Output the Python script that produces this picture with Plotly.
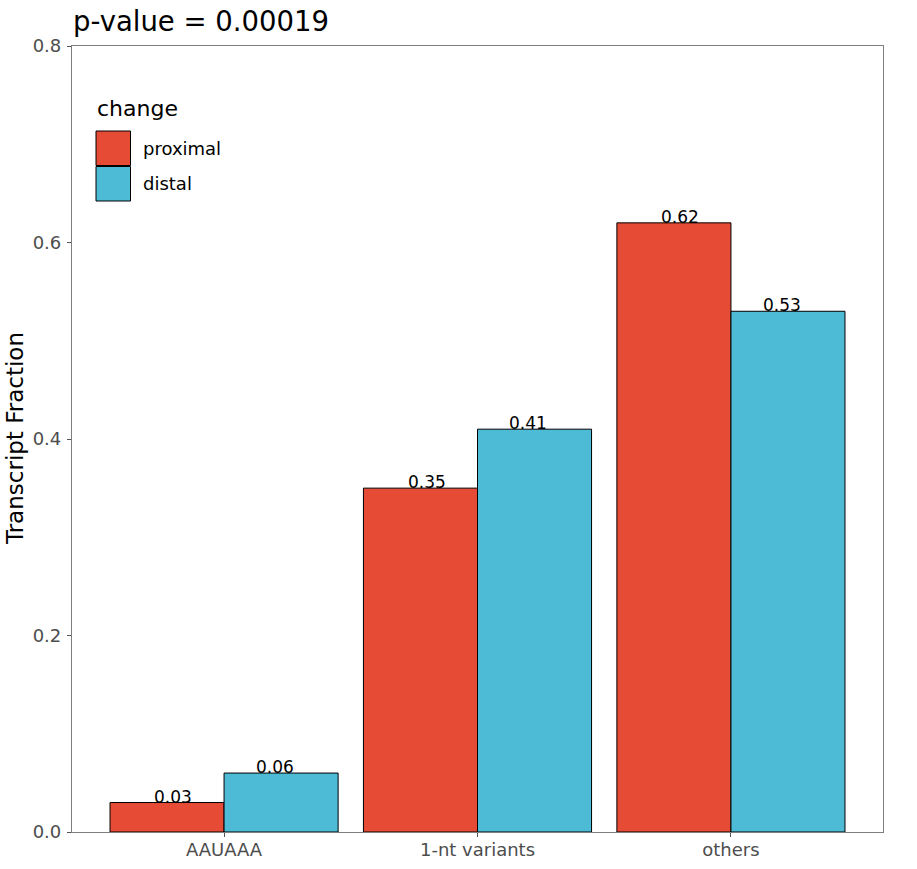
import plotly.graph_objects as go

# ---- data ----
categories = ["AAUAAA", "1-nt variants", "others"]
proximal = [0.03, 0.35, 0.62]
distal = [0.06, 0.41, 0.53]
series_names = ["proximal", "distal"]
y_ticks = [0.0, 0.2, 0.4, 0.6, 0.8]
y_tick_labels = ["0.0", "0.2", "0.4", "0.6", "0.8"]
title_text = "p-value = 0.00019"
legend_title = "change"
y_title = "Transcript Fraction"

# ---- style ----
RED = "#E64B35"
BLUE = "#4DBBD5"
FONT = "DejaVu Sans"
W, H = 917, 869
ML, MR, MT, MB = 72, 34, 46, 37
PW, PH = W - ML - MR, H - MT - MB
BAR_W = 0.45
LABEL_OFF = 0.2

def px_x(px):
    return (px - ML) / PW

def px_y(py):
    return (H - MB - py) / PH

xpos = [i + 1 for i in range(len(categories))]

fig = go.Figure()
fig.add_trace(go.Bar(x=xpos, y=proximal, width=BAR_W, offset=-BAR_W,
                     marker=dict(color=RED, line=dict(color="black", width=1)),
                     name=series_names[0], showlegend=False))
fig.add_trace(go.Bar(x=xpos, y=distal, width=BAR_W, offset=0,
                     marker=dict(color=BLUE, line=dict(color="black", width=1)),
                     name=series_names[1], showlegend=False))

annotations = []
for xv, v in zip(xpos, proximal):
    annotations.append(dict(x=xv - LABEL_OFF, y=v, xref="x", yref="y", text=f"{v:.2f}",
                            showarrow=False, yanchor="bottom", yshift=-6,
                            font=dict(family=FONT, size=17, color="black")))
for xv, v in zip(xpos, distal):
    annotations.append(dict(x=xv + LABEL_OFF, y=v, xref="x", yref="y", text=f"{v:.2f}",
                            showarrow=False, yanchor="bottom", yshift=-6,
                            font=dict(family=FONT, size=17, color="black")))

# title
annotations.append(dict(x=0, y=1, xref="paper", yref="paper", text=title_text,
                        showarrow=False, xanchor="left", yanchor="middle", yshift=25,
                        xshift=-1, font=dict(family=FONT, size=27.5, color="black")))
# y title
annotations.append(dict(x=0, y=0.5, xref="paper", yref="paper", text=y_title,
                        showarrow=False, xanchor="center", yanchor="middle", textangle=-90,
                        xshift=-57, font=dict(family=FONT, size=23, color="black")))

# manual legend
shapes = []
annotations.append(dict(x=px_x(95), y=px_y(109), xref="paper", yref="paper", text=legend_title,
                        showarrow=False, xanchor="left", yanchor="middle",
                        font=dict(family=FONT, size=22, color="black")))
key_tops = [131, 166.5]
for (name, col), top in zip(zip(series_names, [RED, BLUE]), key_tops):
    shapes.append(dict(type="rect", xref="paper", yref="paper",
                       x0=px_x(96), x1=px_x(130.5), y0=px_y(top + 34.5), y1=px_y(top),
                       fillcolor=col, line=dict(color="black", width=1)))
    annotations.append(dict(x=px_x(141), y=px_y(top + 17.5), xref="paper", yref="paper",
                            text=name, showarrow=False, xanchor="left", yanchor="middle",
                            font=dict(family=FONT, size=18, color="black")))

axis_common = dict(showgrid=False, zeroline=False, showline=True, mirror=True,
                   automargin=False,
                   linecolor="#7F7F7F", linewidth=1.2, ticks="outside", ticklen=4,
                   tickwidth=1.2, tickcolor="#555555",
                   tickfont=dict(family=FONT, size=18, color="#4D4D4D"))

fig.update_layout(
    width=W, height=H,
    margin=dict(l=ML, r=MR, t=MT, b=MB, pad=0, autoexpand=False),
    plot_bgcolor="white", paper_bgcolor="white",
    barmode="overlay",
    xaxis=dict(range=[0.4, 3.6], tickvals=xpos, ticktext=categories,
               ticklabelstandoff=-3, **axis_common),
    yaxis=dict(range=[0, 0.8], tickvals=y_ticks, ticktext=y_tick_labels,
               ticklabelstandoff=2, **axis_common),
    annotations=annotations,
    shapes=shapes,
    showlegend=False,
    font=dict(family=FONT),
)

fig.write_html("out.html", config={"displayModeBar": False},
               post_script="document.body.style.margin='0';document.body.style.overflow='hidden';")
